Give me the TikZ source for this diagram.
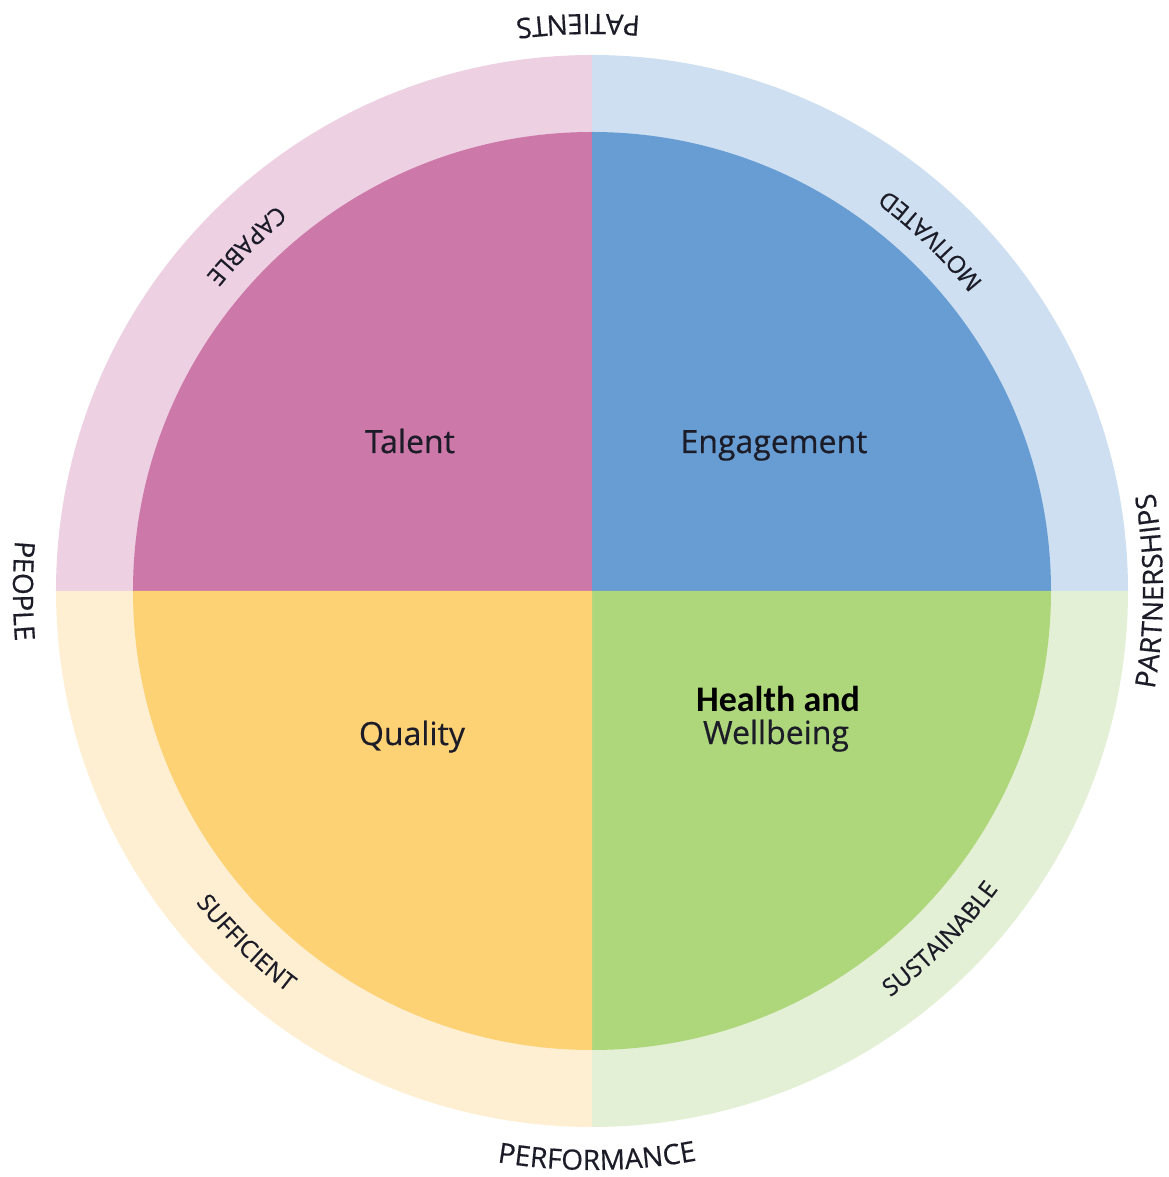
\documentclass[tikz,border=0pt]{standalone}
\usepackage{fontspec}
\setmainfont{Open Sans}[FakeBold=0.5]
\newfontfamily\calbold{Carlito}[BoldFont={* Bold}]
\usetikzlibrary{decorations.text}
\definecolor{talentC}{HTML}{CC78A8}
\definecolor{engageC}{HTML}{679DD2}
\definecolor{qualityC}{HTML}{FDD275}
\definecolor{healthC}{HTML}{AED67A}
\definecolor{talentL}{HTML}{EDD1E3}
\definecolor{engageL}{HTML}{CDDFF0}
\definecolor{qualityL}{HTML}{FEEFD2}
\definecolor{healthL}{HTML}{E3F0D5}
\definecolor{txt}{HTML}{1C1C28}
\newcommand\ringfont{\fontsize{24}{24}\selectfont\color{txt}}
\newcommand\outerfont{\fontsize{28}{28}\selectfont\color{txt}}
% #1 centre angle, #2 baseline radius, #3 format, #4 text
\newcommand\circtext[4]{%
  \path[decorate,decoration={text along path,text align=center,text={|#3|#4}}]
    (#1-30:#2) arc[start angle=#1-30, end angle=#1+30, radius=#2];}
\tikzset{
  quadlabel/.style={font=\fontsize{32}{32}\selectfont, text=txt, inner sep=0pt, anchor=base},
}
\begin{document}
\begin{tikzpicture}
\useasboundingbox (-592pt,-586pt) rectangle (576pt,591pt);
% outer ring
\fill[talentL]  (0,0) -- (180:536pt) arc[start angle=180, end angle=90,  radius=536pt] -- cycle;
\fill[engageL]  (0,0) -- (90:536pt)  arc[start angle=90,  end angle=0,   radius=536pt] -- cycle;
\fill[healthL]  (0,0) -- (0:536pt)   arc[start angle=0,   end angle=-90, radius=536pt] -- cycle;
\fill[qualityL] (0,0) -- (270:536pt) arc[start angle=270, end angle=180, radius=536pt] -- cycle;
% inner quadrants
\fill[talentC]  (0,0) -- (180:459pt) arc[start angle=180, end angle=90,  radius=459pt] -- cycle;
\fill[engageC]  (0,0) -- (90:459pt)  arc[start angle=90,  end angle=0,   radius=459pt] -- cycle;
\fill[healthC]  (0,0) -- (0:459pt)   arc[start angle=0,   end angle=-90, radius=459pt] -- cycle;
\fill[qualityC] (0,0) -- (270:459pt) arc[start angle=270, end angle=180, radius=459pt] -- cycle;
% quadrant labels
\node[quadlabel] (talent) at (-182pt,138pt) {Talent};
\node[quadlabel] (engagement) at (182pt,138pt) {Engagement};
\node[quadlabel] (quality) at (-180pt,-154pt) {Quality};
\node[quadlabel, font=\calbold\bfseries\fontsize{36}{36}\selectfont, text=black] (health) at (186pt,-121pt) {Health and};
\node[quadlabel] (wellbeing) at (184pt,-153pt) {Wellbeing};
% ring labels
\circtext{135}{498pt}{\ringfont}{CAPABLE}
\circtext{46}{498pt}{\ringfont}{MOTIVATED}
\circtext{225.5}{504pt}{\ringfont}{SUFFICIENT}
\circtext{315}{504pt}{\ringfont}{SUSTAINABLE}
% outer labels
\circtext{91.4}{577pt}{\outerfont}{PATIENTS}
\circtext{180}{579pt}{\outerfont}{PEOPLE}
\circtext{0}{571pt}{\outerfont}{PARTNERSHIPS}
\circtext{270.5}{579pt}{\outerfont}{PERFORMANCE}
\end{tikzpicture}
\end{document}
